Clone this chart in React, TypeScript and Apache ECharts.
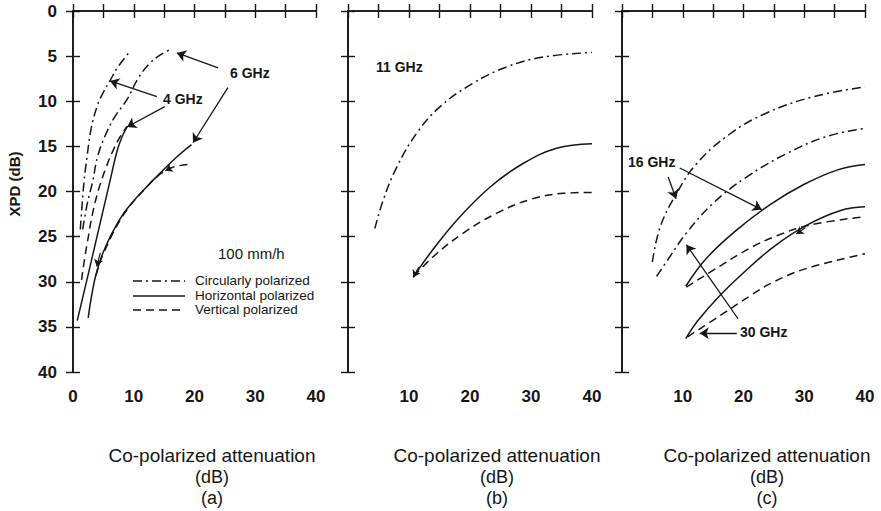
import React, { useEffect, useRef } from "react";
import * as echarts from "echarts";

// Panel layout (pixels) for the three XPD plots
const PANELS = [
  { left: 73, width: 243, showZero: true, showY: true },
  { left: 348, width: 244, showZero: false, showY: false },
  { left: 622, width: 243, showZero: false, showY: false },
];
const PLOT_TOP = 11;
const PLOT_HEIGHT = 361;

// Axis ranges (dB)
const X_MIN = 0;
const X_MAX = 40;
const Y_MIN = 0;
const Y_MAX = 40;
const TICK_STEP = 5;

// (a) 4 GHz and 6 GHz, 100 mm/h
const cp4GHz = [[1.2, 24.2], [1.5, 21.5], [1.8, 19], [2.3, 16.2], [3, 13], [4, 10.5], [5, 9], [6.1, 7.7], [7.4, 6.2], [9.1, 4.7]];
const hor4GHz = [[0.7, 34.3], [2.6, 28.9], [4.4, 23.7], [6, 19.1], [7.3, 15.4], [8.1, 13.9], [8.9, 12.8]];
const ver4GHz = [[1.4, 29.8], [1.9, 27.5], [2.4, 25.5], [3.2, 22.5], [4.2, 19.8], [5.3, 17.6], [6.5, 15.6], [7.7, 14], [8.9, 12.8]];
const cp6GHz = [[1.6, 24.2], [2.3, 21.5], [3.2, 19], [4.1, 16], [5.5, 13.5], [7, 11.6], [8.9, 9.8], [10.6, 7.6], [12.5, 5.9], [14.5, 4.8], [16.3, 4.2]];
const hor6GHz = [[2.5, 34], [3, 31.8], [3.6, 29.7], [4.3, 28], [5, 26.7], [6.6, 24.4], [8.8, 22], [12.1, 19.5], [14.9, 17.6], [17.2, 16.1], [19.5, 14.8]];
const ver6GHz = [[3.8, 29.3], [4.4, 27.9], [5, 26.9], [6.6, 24.6], [8.8, 22.1], [12, 19.6], [14.5, 18], [16.5, 17.3], [19, 17]];

// (b) 11 GHz
const cp11GHz = [[4.4, 24.1], [5.8, 20.9], [8, 17.3], [11.3, 13.5], [15.1, 10.6], [20.5, 8], [26, 6.2], [32, 5.1], [40, 4.6]];
const hor11GHz = [[10.7, 29.5], [13.4, 26.9], [17.8, 23.2], [23.3, 19.5], [28.7, 16.9], [34.2, 15.2], [40, 14.7]];
const ver11GHz = [[10.8, 29.4], [14, 27.2], [18.9, 24.6], [24.4, 22.4], [29.8, 20.9], [35.3, 20.2], [40, 20.1]];

// (c) 16 GHz and 30 GHz
const cp16GHz = [[5, 27.8], [6.3, 23.9], [9, 20.2], [12.3, 16.9], [17.8, 13.6], [23.8, 11.3], [31.5, 9.5], [40, 8.4]];
const hor16GHz = [[10.5, 30.5], [13.9, 27.4], [19, 24.2], [24.5, 21.4], [30, 19.2], [35.5, 17.6], [40, 17]];
const ver16GHz = [[10.6, 30.6], [16.5, 28.1], [21, 26.3], [25.5, 24.9], [31, 23.7], [40, 22.8]];
const cp30GHz = [[5.7, 29.4], [7.9, 27.2], [10.6, 24.6], [15, 21.3], [20.5, 18.4], [27.1, 15.8], [33.7, 13.9], [40, 13]];
const hor30GHz = [[10.5, 36.3], [12.5, 34.3], [16, 31.6], [20, 29], [25, 26.1], [30.5, 23.7], [36, 22.1], [40, 21.7]];
const ver30GHz = [[10.8, 36.1], [16.5, 33.6], [21, 31.6], [25, 30], [30.5, 28.5], [40, 26.9]];

// Pointer arrows [panel, from, to] in data units
const arrows: [number, number[], number[]][] = [
  [0, [23.9, 6.3], [17.1, 4.65]],
  [0, [25.5, 8.5], [19.75, 14.6]],
  [0, [13.8, 9.5], [6.1, 7.75]],
  [0, [15.1, 10.6], [8.9, 12.85]],
  [2, [7.6, 18.4], [8.9, 20.8]],
  [2, [9.5, 17.4], [23, 22]],
  [2, [19.1, 34.1], [10.6, 25.9]],
  [2, [18.9, 35.7], [12.8, 35.7]],
];

// Small direction heads drawn on the curves themselves [panel, from, to]
const curveHeads: [number, number[], number[]][] = [
  [0, [16.4, 17.3], [15.2, 17.7]],
  [0, [4.5, 26.8], [3.9, 28.3]],
  [1, [11.6, 28.4], [10.7, 29.5]],
  [2, [30.2, 24], [28.7, 24.7]],
];

const INK = "#161616";
const DASH_DOT = [9, 4, 2, 4];
const DASH = [8, 5];

type Curve = { panel: number; data: number[][]; dash: number[] | "solid"; name: string };
const curves: Curve[] = [
  { panel: 0, data: cp4GHz, dash: DASH_DOT, name: "4 GHz circular" },
  { panel: 0, data: hor4GHz, dash: "solid", name: "4 GHz horizontal" },
  { panel: 0, data: ver4GHz, dash: DASH, name: "4 GHz vertical" },
  { panel: 0, data: cp6GHz, dash: DASH_DOT, name: "6 GHz circular" },
  { panel: 0, data: hor6GHz, dash: "solid", name: "6 GHz horizontal" },
  { panel: 0, data: ver6GHz, dash: DASH, name: "6 GHz vertical" },
  { panel: 1, data: cp11GHz, dash: DASH_DOT, name: "11 GHz circular" },
  { panel: 1, data: hor11GHz, dash: "solid", name: "11 GHz horizontal" },
  { panel: 1, data: ver11GHz, dash: DASH, name: "11 GHz vertical" },
  { panel: 2, data: cp16GHz, dash: DASH_DOT, name: "16 GHz circular" },
  { panel: 2, data: hor16GHz, dash: "solid", name: "16 GHz horizontal" },
  { panel: 2, data: ver16GHz, dash: DASH, name: "16 GHz vertical" },
  { panel: 2, data: cp30GHz, dash: DASH_DOT, name: "30 GHz circular" },
  { panel: 2, data: hor30GHz, dash: "solid", name: "30 GHz horizontal" },
  { panel: 2, data: ver30GHz, dash: DASH, name: "30 GHz vertical" },
];

const TITLE_CENTERS = [212, 497, 767];
const PANEL_TAGS = ["(a)", "(b)", "(c)"];
const FONT = "'Liberation Sans', Arial, Helvetica, sans-serif";

function buildOption() {
  const grid = PANELS.map((p) => ({ left: p.left, top: PLOT_TOP, width: p.width, height: PLOT_HEIGHT }));
  const axisLine = { show: true, lineStyle: { color: INK, width: 1.6 } };
  const axisTick = { show: true, inside: true, length: 7, lineStyle: { color: INK, width: 1.4 } };
  const xAxis: any[] = [];
  const yAxis: any[] = [];
  PANELS.forEach((p, i) => {
    const common = { type: "value", gridIndex: i, min: X_MIN, max: X_MAX, interval: TICK_STEP, splitLine: { show: false }, axisLine, axisTick };
    xAxis.push({
      ...common,
      position: "bottom",
      axisLabel: {
        show: true,
        margin: 16,
        color: INK,
        fontFamily: FONT,
        fontWeight: "bold",
        fontSize: 17,
        formatter: (v: number) => (v % 10 === 0 && (p.showZero || v > 0) ? String(v) : ""),
      },
    });
    xAxis.push({ ...common, position: "top", axisLabel: { show: false } });
    const ycommon = { type: "value", gridIndex: i, min: Y_MIN, max: Y_MAX, interval: TICK_STEP, inverse: true, splitLine: { show: false }, axisLine, axisTick };
    yAxis.push({
      ...ycommon,
      position: "left",
      axisLabel: {
        show: p.showY,
        margin: 16,
        color: INK,
        fontFamily: FONT,
        fontWeight: "bold",
        fontSize: 17,
      },
    });
    yAxis.push({ ...ycommon, position: "right", axisLabel: { show: false } });
  });

  const series: any[] = curves.map((c) => ({
    type: "line",
    name: c.name,
    xAxisIndex: c.panel * 2,
    yAxisIndex: c.panel * 2,
    data: c.data,
    smooth: 0.4,
    showSymbol: false,
    symbol: "none",
    lineStyle: { color: INK, width: 1.5, type: c.dash },
  }));

  const arrowSeries = (list: [number, number[], number[]][], headSize: number, width: number) => {
    [0, 1, 2].forEach((panel) => {
      const rows = list.filter((a) => a[0] === panel);
      if (!rows.length) return;
      series.push({
        type: "lines",
        coordinateSystem: "cartesian2d",
        xAxisIndex: panel * 2,
        yAxisIndex: panel * 2,
        symbol: ["none", "arrow"],
        symbolSize: [0, headSize],
        lineStyle: { color: INK, width, type: "solid", opacity: 1 },
        data: rows.map((a) => ({ coords: [a[1], a[2]] })),
      });
    });
  };
  arrowSeries(arrows, 9, 1.3);
  arrowSeries(curveHeads, 7, 1.2);

  const text = (t: string, x: number, y: number, size: number, weight = "normal", align = "left") => ({
    type: "text",
    x,
    y,
    style: { text: t, fill: INK, font: `${weight} ${size}px ${FONT}`, align, verticalAlign: "middle" },
  });

  const graphic: any[] = [
    {
      type: "text",
      x: 14,
      y: 184,
      rotation: Math.PI / 2,
      style: { text: "XPD (dB)", fill: INK, font: `bold 15px ${FONT}`, align: "center", verticalAlign: "middle" },
    },
    text("6 GHz", 230, 73, 14, "bold"),
    text("4 GHz", 163, 99, 14, "bold"),
    text("11 GHz", 376, 67, 14, "bold"),
    text("16 GHz", 628, 162, 14, "bold"),
    text("30 GHz", 740, 332, 14, "bold"),
    text("100 mm/h", 218, 253, 15),
    text("Circularly polarized", 195, 280, 13.5),
    text("Horizontal polarized", 195, 295, 13.5),
    text("Vertical polarized", 195, 309, 13.5),
    { type: "line", shape: { x1: 133, y1: 281, x2: 185, y2: 281 }, style: { stroke: INK, lineWidth: 1.5, lineDash: DASH_DOT } },
    { type: "line", shape: { x1: 133, y1: 296, x2: 185, y2: 296 }, style: { stroke: INK, lineWidth: 1.5 } },
    { type: "line", shape: { x1: 133, y1: 310, x2: 185, y2: 310 }, style: { stroke: INK, lineWidth: 1.5, lineDash: DASH } },
  ];
  TITLE_CENTERS.forEach((cx, i) => {
    graphic.push(text("Co-polarized attenuation", cx, 455, 19, "normal", "center"));
    graphic.push(text("(dB)", cx, 477, 18, "normal", "center"));
    graphic.push(text(PANEL_TAGS[i], cx, 498, 18, "normal", "center"));
  });

  return {
    animation: false,
    backgroundColor: "#ffffff",
    grid,
    xAxis,
    yAxis,
    series,
    graphic,
  };
}

export default function App() {
  const ref = useRef<HTMLDivElement>(null);
  useEffect(() => {
    document.body.style.margin = "0";
    if (!ref.current) return;
    const chart = echarts.init(ref.current, null, { renderer: "svg" });
    chart.setOption(buildOption());
    return () => chart.dispose();
  }, []);
  return <div ref={ref} style={{ width: 881, height: 511 }} />;
}
